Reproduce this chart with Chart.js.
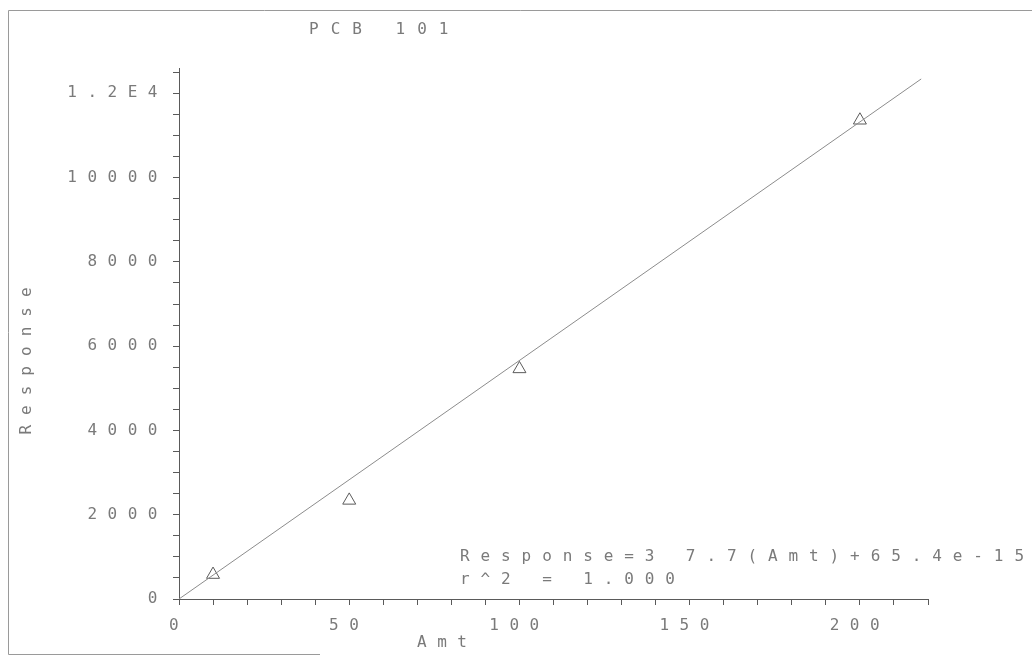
<!DOCTYPE html>
<html>
<head>
<meta charset="utf-8">
<title>PCB 101</title>
<script src="https://cdn.jsdelivr.net/npm/chart.js@4.4.1/dist/chart.umd.min.js"></script>
<style>
  html, body { margin: 0; padding: 0; background: #ffffff; }
  #wrap { width: 1032px; height: 658px; position: relative; }
</style>
</head>
<body>
<div id="wrap"><canvas id="c" width="1032" height="658"></canvas></div>
<script>
// Calibration standards: amount vs. detector response
const amounts = [10, 50, 100, 200];
const responses = [580, 2340, 5460, 11360];

// Least-squares fit line, drawn across the amount range
const fitAmounts = [0, 218];
const fitResponses = [0, 12340];

// Labelled ticks
const xMajorTicks = [0, 50, 100, 150, 200];
const xTickLabels = ['0', '50', '100', '150', '200'];
const yMajorTicks = [0, 2000, 4000, 6000, 8000, 10000, 12000];
const yTickLabels = ['0', '2000', '4000', '6000', '8000', '10000', '1.2E4'];

// Axis ranges and minor tick steps
const xRange = [0, 220];
const yRange = [0, 12600];
const xMinorStep = 10;
const yMinorStep = 500;

// Text
const titleText = 'PCB 101';
const xTitle = 'Amt';
const yTitle = 'Response';
const fitEquation = 'Response=3 7.7(Amt)+65.4e-15';
const fitR2 = 'r^2 = 1.000';

const FONT = '"DejaVu Sans Mono", "Liberation Mono", monospace';
const TEXT = '#7a7a7a';
const INK = '#5a5a5a';
const SPACING = '10.5px';

// Wide plotter-style letter spacing for every label on the canvas
const spacingPlugin = {
  id: 'spacing',
  beforeLayout(chart) { chart.ctx.letterSpacing = SPACING; },
  beforeDraw(chart) { chart.ctx.letterSpacing = SPACING; }
};

// Page frame, title, axis titles and the fit equation
const notesPlugin = {
  id: 'notes',
  afterDraw(chart) {
    const ctx = chart.ctx;
    ctx.save();
    ctx.strokeStyle = '#9a9a9a';
    ctx.lineWidth = 1;
    ctx.beginPath();
    ctx.moveTo(8.5, 10.5); ctx.lineTo(1032, 10.5);
    ctx.moveTo(8.5, 10.5); ctx.lineTo(8.5, 654.5);
    ctx.lineTo(320, 654.5);
    ctx.stroke();

    ctx.font = '16px ' + FONT;
    ctx.fillStyle = TEXT;
    ctx.textBaseline = 'middle';
    ctx.textAlign = 'left';

    ctx.letterSpacing = '12px';
    ctx.fillText(titleText, 309, 30);

    ctx.letterSpacing = SPACING;
    ctx.fillText(xTitle, 417, 643);

    ctx.letterSpacing = '10.9px';
    ctx.fillText(fitEquation, 460, 557);
    ctx.fillText(fitR2, 460, 580);

    ctx.letterSpacing = '10px';
    ctx.translate(27, 361);
    ctx.rotate(-Math.PI / 2);
    ctx.textAlign = 'center';
    ctx.fillText(yTitle, 5, 0);
    ctx.restore();
  }
};

const labelFor = (majors, labels) => (v) => {
  const i = majors.indexOf(v);
  return i >= 0 ? labels[i] : '';
};

// Place a tick at every minor step inside the axis range
const stepTicks = (lo, hi, step) => (scale) => {
  const ticks = [];
  for (let v = lo; v <= hi; v += step) ticks.push({ value: v });
  scale.ticks = ticks;
};

new Chart(document.getElementById('c'), {
  type: 'scatter',
  data: {
    datasets: [
      {
        label: 'fit',
        data: fitAmounts.map((a, i) => ({ x: a, y: fitResponses[i] })),
        showLine: true,
        borderColor: '#8c8c8c',
        borderWidth: 1,
        pointRadius: 0,
        fill: false
      },
      {
        label: 'standards',
        data: amounts.map((a, i) => ({ x: a, y: responses[i] })),
        showLine: false,
        pointStyle: 'triangle',
        pointRadius: 7.5,
        pointBorderColor: INK,
        pointBackgroundColor: 'rgba(0,0,0,0)',
        pointBorderWidth: 1
      }
    ]
  },
  options: {
    responsive: false,
    animation: false,
    devicePixelRatio: 1,
    layout: { padding: { top: 68, right: 104, bottom: 14, left: 0 } },
    plugins: {
      legend: { display: false },
      title: { display: false },
      tooltip: { enabled: false }
    },
    scales: {
      x: {
        type: 'linear',
        min: xRange[0],
        max: xRange[1],
        afterBuildTicks: stepTicks(xRange[0], xRange[1], xMinorStep),
        afterFit(scale) { scale.height = 45; },
        border: { display: true, color: INK, width: 1 },
        grid: { drawOnChartArea: false, drawTicks: true, tickLength: 6, tickColor: INK },
        ticks: {
          autoSkip: false,
          maxRotation: 0,
          padding: 11,
          color: TEXT,
          font: { family: FONT, size: 16 },
          callback: labelFor(xMajorTicks, xTickLabels)
        }
      },
      y: {
        type: 'linear',
        min: yRange[0],
        max: yRange[1],
        afterBuildTicks: stepTicks(yRange[0], yRange[1], yMinorStep),
        afterFit(scale) { scale.width = 179; },
        border: { display: true, color: INK, width: 1 },
        grid: { drawOnChartArea: false, drawTicks: true, tickLength: 6, tickColor: INK },
        ticks: {
          autoSkip: false,
          padding: 5,
          color: TEXT,
          font: { family: FONT, size: 16 },
          callback: labelFor(yMajorTicks, yTickLabels)
        }
      }
    }
  },
  plugins: [spacingPlugin, notesPlugin]
});
</script>
</body>
</html>
